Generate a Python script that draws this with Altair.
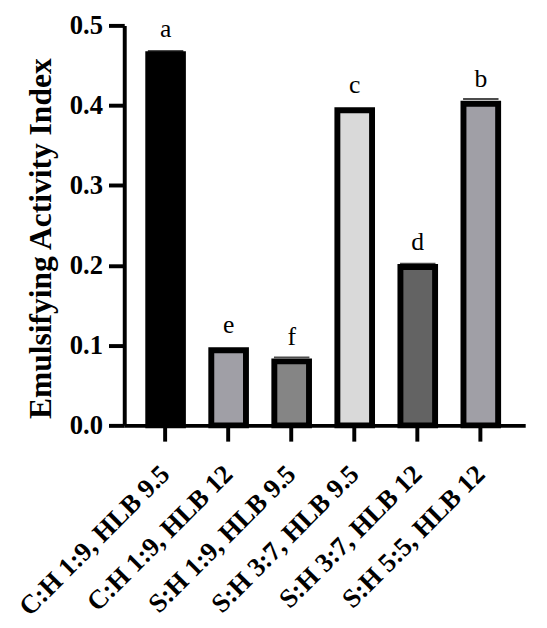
import altair as alt
import pandas as pd

categories = ["C:H 1:9, HLB 9.5", "C:H 1:9, HLB 12", "S:H 1:9, HLB 9.5",
              "S:H 3:7, HLB 9.5", "S:H 3:7, HLB 12", "S:H 5:5, HLB 12"]
values = [0.464, 0.094, 0.080, 0.394, 0.198, 0.402]
errors = [0.004, 0.001, 0.005, 0.001, 0.004, 0.006]
letters = ["a", "e", "f", "c", "d", "b"]
colors = ["#000000", "#a09fa6", "#858585", "#d9d9d9", "#636363", "#a09fa6"]
y_ticks = [0.0, 0.1, 0.2, 0.3, 0.4, 0.5]

df = pd.DataFrame({
    "cat": categories,
    "val": values,
    "top": [v + e for v, e in zip(values, errors)],
    "letter": letters,
})

FONT = "Liberation Serif"

x_enc = alt.X(
    "cat:N", sort=categories,
    scale=alt.Scale(paddingInner=0.45, paddingOuter=0.405, align=0.47),
    axis=alt.Axis(
        title=None, labelAngle=315, labelAlign="right", labelBaseline="middle",
        labelPadding=29, tickSize=16, tickWidth=4, domainWidth=4,
        domainColor="black", tickColor="black", labelColor="black",
        labelFont=FONT, labelFontSize=27, labelFontWeight="bold",
        labelLimit=400, labelOverlap=False, zindex=1,
    ),
)

y_scale = alt.Scale(domain=[0, 0.5], nice=False)
y_axis = alt.Axis(
    values=y_ticks, format=".1f", grid=False,
    tickSize=16, tickWidth=4, domainWidth=4, domainColor="black",
    tickColor="black", labelColor="black", labelPadding=6,
    labelFont=FONT, labelFontSize=27, labelFontWeight="bold",
    title="Emulsifying Activity Index", titleFont=FONT, titleFontSize=32,
    titleFontWeight="bold", titleColor="black", titleAngle=270,
    titleX=-85, titleY=216, titleAlign="center", titleBaseline="middle",
    zindex=1,
)

base = alt.Chart(df).encode(x=x_enc)

bars = base.mark_bar(stroke="black", strokeWidth=6).encode(
    y=alt.Y("val:Q", scale=y_scale, axis=y_axis),
    color=alt.Color("cat:N", scale=alt.Scale(domain=categories, range=colors), legend=None),
)

caps = base.mark_tick(color="black", thickness=2, size=36).encode(
    y=alt.Y("top:Q", scale=y_scale),
)

texts = base.mark_text(dy=-17, baseline="alphabetic", fontSize=26, font=FONT, color="black").encode(
    y=alt.Y("val:Q", scale=y_scale),
    text="letter:N",
)

chart = alt.layer(bars, caps, texts).properties(
    width=407, height=406,
    padding={"left": 118, "top": 13, "right": 14, "bottom": 200},
    autosize="none",
).configure_view(stroke=None)

chart.save("out.html", embed_options={"renderer": "svg", "actions": False})
